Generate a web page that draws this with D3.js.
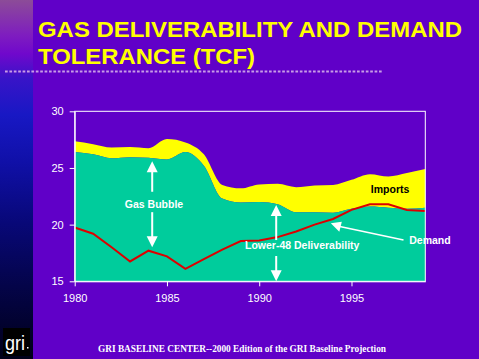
<!DOCTYPE html>
<html>
<head>
<meta charset="utf-8">
<script src="https://cdn.jsdelivr.net/npm/d3@7"></script>
<style>
  html, body { margin: 0; padding: 0; background: #6000c8; }
  svg { display: block; }
</style>
</head>
<body>
<script>
const width = 479;
const height = 359;

// data (TCF)
const years = [1980, 1981, 1982, 1983, 1984, 1985, 1986, 1987, 1988, 1989,
               1990, 1991, 1992, 1993, 1994, 1995, 1996, 1997, 1998, 1999];
const totalSupply = [27.35, 27.1, 26.8, 26.85, 26.75, 27.55, 27.25, 26.2, 23.5, 23.2,
                     23.55, 23.6, 23.3, 23.45, 23.5, 23.95, 24.45, 24.25, 24.55, 24.9];
const lower48 = [26.4, 26.2, 25.85, 25.95, 25.9, 25.75, 26.4, 25.2, 22.3, 21.95,
                 22.0, 21.8, 21.1, 21.1, 21.05, 21.4, 21.6, 21.5, 21.4, 21.5];
const demand = [19.75, 19.2, 18.0, 16.75, 17.7, 17.2, 16.1, 16.95, 17.8, 18.55,
                18.6, 18.9, 19.4, 20.0, 20.5, 21.3, 21.8, 21.8, 21.3, 21.2];

const yTicks = [15, 20, 25, 30];
const xTicks = [1980, 1985, 1990, 1995];

const titleLines = ["GAS DELIVERABILITY AND DEMAND", "TOLERANCE (TCF)"];
const titleWidths = [424, 217];
const footer = "GRI BASELINE CENTER--2000 Edition of the GRI Baseline Projection";

const plotLeft = 74.7, plotRight = 425.3, plotTop = 111.3, plotBottom = 281.3;

const xScale = d3.scaleLinear().domain([1980, 1999]).range([plotLeft, plotRight]);
const yScale = d3.scaleLinear().domain([15, 30]).range([plotBottom, plotTop]);

const svg = d3.select('body').append('svg')
    .attr("width", width).attr("height", height)
    .style("background-color", "#6000c8");

// left gradient strip
const defs = svg.append("defs");
const grad = defs.append("linearGradient").attr("id", "strip")
    .attr("x1", 0).attr("y1", 0).attr("x2", 0).attr("y2", 1);
[[0, "#8c4c98"], [0.1, "#7e1cc0"], [0.15, "#7008cc"], [0.22, "#3814c8"],
 [0.32, "#1818c4"], [0.45, "#1010a8"], [0.62, "#080878"], [0.8, "#040448"], [1, "#000018"]]
    .forEach(s => grad.append("stop").attr("offset", s[0]).attr("stop-color", s[1]));
svg.append("rect").attr("x", 0).attr("y", 0).attr("width", 33).attr("height", height)
    .attr("fill", "url(#strip)");

// gri logo
svg.append("rect").attr("x", 3).attr("y", 328).attr("width", 27).attr("height", 28).attr("fill", "#000");
svg.append("text").attr("x", 15).attr("y", 350).attr("text-anchor", "middle")
    .style("font-family", "Arial, 'Liberation Sans', sans-serif").style("font-size", "20px")
    .attr("fill", "#fff").attr("textLength", 20).attr("lengthAdjust", "spacingAndGlyphs")
    .text("gri");
svg.append("rect").attr("x", 27).attr("y", 347).attr("width", 1.5).attr("height", 1.5).attr("fill", "#fff");

// title
svg.selectAll("text.title").data(titleLines).enter().append("text")
    .attr("class", "title")
    .attr("x", 38).attr("y", (d, i) => 36.7 + i * 27.6)
    .attr("textLength", (d, i) => titleWidths[i]).attr("lengthAdjust", "spacingAndGlyphs")
    .style("font-family", "Arial, 'Liberation Sans', sans-serif")
    .style("font-weight", "bold").style("font-size", "22.5px")
    .attr("fill", "#ffff00")
    .text(d => d);

// dotted rule
svg.append("line").attr("x1", 5).attr("x2", 382).attr("y1", 71.5).attr("y2", 71.5)
    .attr("stroke", "#c89ce6").attr("stroke-width", 2).attr("stroke-dasharray", "2.7,1.7");

const rows = years.map((y, i) => ({ year: y, total: totalSupply[i], l48: lower48[i], dem: demand[i] }));

const importsArea = d3.area().curve(d3.curveMonotoneX)
    .x(d => xScale(d.year)).y0(d => yScale(d.l48)).y1(d => yScale(d.total));
const l48Area = d3.area().curve(d3.curveMonotoneX)
    .x(d => xScale(d.year)).y0(yScale(15)).y1(d => yScale(d.l48));
const demandLine = d3.line().x(d => xScale(d.year)).y(d => yScale(d.dem));

svg.append("path").datum(rows).attr("d", importsArea).attr("fill", "#ffff00");
svg.append("path").datum(rows).attr("d", l48Area).attr("fill", "#00cc9c");
svg.append("path").datum(rows).attr("d", demandLine)
    .attr("fill", "none").attr("stroke", "#dd0000").attr("stroke-width", 2);

// frame
svg.append("rect").attr("x", plotLeft).attr("y", plotTop)
    .attr("width", plotRight - plotLeft).attr("height", plotBottom - plotTop)
    .attr("fill", "none").attr("stroke", "#fff").attr("stroke-width", 1);

const yAxis = d3.axisLeft(yScale).tickValues(yTicks).tickSize(5).tickSizeOuter(0).tickPadding(6);
const xAxis = d3.axisBottom(xScale).tickValues(xTicks).tickFormat(d3.format("d"))
    .tickSize(5).tickSizeOuter(0).tickPadding(8);

const gy = svg.append('g').attr("transform", "translate(" + plotLeft + ",0)").call(yAxis);
const gx = svg.append('g').attr("transform", "translate(0," + plotBottom + ")").call(xAxis);
[gx, gy].forEach(g => {
    g.select(".domain").attr("stroke", "#fff");
    g.selectAll(".tick line").attr("stroke", "#fff");
    g.selectAll(".tick text").attr("fill", "#fff")
        .style("font-family", "Arial, 'Liberation Sans', sans-serif").style("font-size", "11px");
});

// annotations
const labelFont = "Arial, 'Liberation Sans', sans-serif";
function arrow(x, yFrom, yTip) {
    const px = xScale(x), p0 = yScale(yFrom), pt = yScale(yTip);
    const dir = pt < p0 ? 1 : -1;
    svg.append("line").attr("x1", px).attr("x2", px).attr("y1", p0).attr("y2", pt + dir * 8)
        .attr("stroke", "#fff").attr("stroke-width", 2);
    svg.append("path")
        .attr("d", `M${px},${pt} L${px - 5.5},${pt + dir * 11} L${px + 5.5},${pt + dir * 11} Z`)
        .attr("fill", "#fff");
}
arrow(1984.2, 22.9, 25.6);
arrow(1984.2, 21.1, 18.0);
arrow(1990.92, 18.64, 21.73);
arrow(1990.92, 17.23, 15.0);

function label(txt, x, y, color) {
    svg.append("text").attr("x", xScale(x)).attr("y", yScale(y))
        .attr("dominant-baseline", "middle")
        .style("font-family", labelFont).style("font-weight", "bold").style("font-size", "10.5px")
        .attr("fill", color).text(txt);
}
svg.append("text").attr("x", xScale(1984.3)).attr("y", yScale(21.7))
    .attr("text-anchor", "middle").attr("dominant-baseline", "middle")
    .style("font-family", labelFont).style("font-weight", "bold").style("font-size", "10.5px")
    .attr("fill", "#fff").text("Gas Bubble");
label("Lower-48 Deliverability", 1989.23, 18.1, "#fff");
label("Imports", 1996.05, 23.05, "#000");
label("Demand", 1998.13, 18.55, "#fff");

// demand pointer
const dTip = [xScale(1993.88), yScale(20.12)];
svg.append("line").attr("x1", xScale(1997.82)).attr("y1", yScale(18.64))
    .attr("x2", xScale(1994.3)).attr("y2", yScale(19.85))
    .attr("stroke", "#fff").attr("stroke-width", 1.5);
svg.append("path")
    .attr("d", `M${dTip[0]},${dTip[1]} L${dTip[0] + 11},${dTip[1] - 1.5} L${dTip[0] + 8.5},${dTip[1] + 8.5} Z`)
    .attr("fill", "#fff");

// footer
svg.append("text").attr("x", 242).attr("y", 352).attr("text-anchor", "middle")
    .style("font-family", "'Times New Roman', 'Liberation Serif', serif")
    .style("font-weight", "bold").style("font-size", "9.5px")
    .attr("fill", "#fff").attr("textLength", 288).attr("lengthAdjust", "spacingAndGlyphs")
    .text(footer);
</script>
</body>
</html>
